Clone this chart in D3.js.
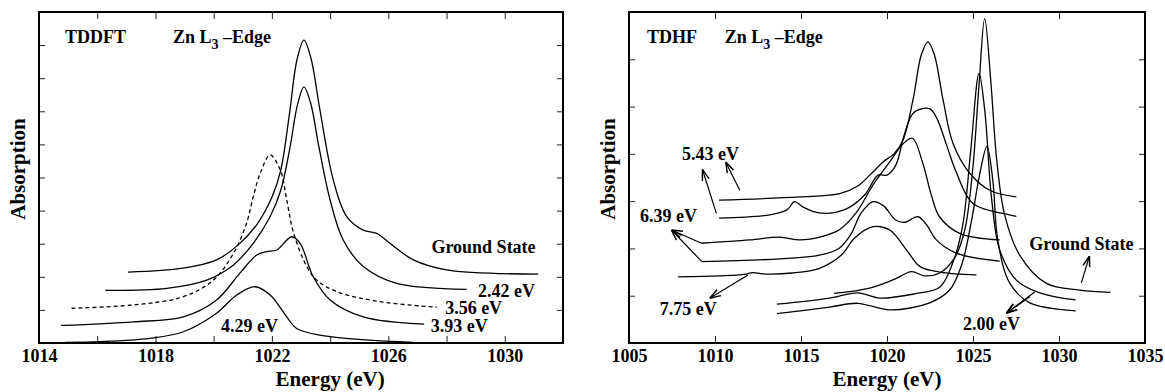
<!DOCTYPE html>
<html>
<head>
<meta charset="utf-8">
<script src="https://cdn.jsdelivr.net/npm/d3@7"></script>
<style>
  body { margin: 0; background: #fff; }
  text { font-family: "Liberation Serif", "Times New Roman", serif; font-weight: bold; fill: #000; }
</style>
</head>
<body>
<svg id="chart" width="1165" height="392"></svg>
<script>
// ---- TDDFT panel: [energy (eV), absorption] ----
const tddftGround = [[1017.06,2.14],[1018.95,2.26],[1020.1,2.51],[1020.9,3.01],[1021.5,3.6],[1022.0,4.4],[1022.3,5.2],[1022.6,6.9],[1022.86,8.55],[1023.1,9.15],[1023.34,8.61],[1023.65,7.04],[1024.11,4.92],[1024.57,3.82],[1025.14,3.41],[1025.6,3.31],[1026.06,3.01],[1026.86,2.51],[1028.0,2.21],[1031.15,2.08]];
const tddft242 = [[1016.28,1.59],[1018.39,1.65],[1019.76,1.90],[1020.68,2.36],[1021.36,3.01],[1021.94,3.82],[1022.3,4.6],[1022.62,5.9],[1022.88,7.2],[1023.1,7.74],[1023.33,7.25],[1023.62,5.9],[1024.0,4.32],[1024.45,3.11],[1025.14,2.31],[1026.29,1.80],[1028.69,1.62]];
const tddft356 = [[1015.12,1.05],[1017.24,1.15],[1018.96,1.40],[1019.99,1.90],[1020.68,2.71],[1021.13,3.62],[1021.36,4.42],[1021.6,5.13],[1021.94,5.68],[1022.3,5.2],[1022.51,4.32],[1022.75,3.31],[1023.2,2.31],[1023.54,1.90],[1024.23,1.55],[1025.71,1.25],[1027.66,1.08]];
const tddft393 = [[1014.76,0.53],[1017.24,0.64],[1018.96,0.79],[1020.1,1.30],[1020.9,2.11],[1021.48,2.66],[1021.82,2.76],[1022.17,2.81],[1022.68,3.21],[1022.97,3.01],[1023.42,2.0],[1024.0,1.30],[1025.14,0.79],[1027.23,0.57]];
const tddft429 = [[1014.9,0.02],[1016.1,0.04],[1017.81,0.14],[1018.96,0.34],[1020.1,0.9],[1020.79,1.45],[1021.42,1.70],[1021.94,1.45],[1022.51,0.79],[1022.85,0.44],[1024.0,0.19],[1026.86,0.02]];

// ---- TDHF panel ----
const tdhf543a = [[1010.23,3.02],[1014.92,3.09],[1017.25,3.16],[1018.3,3.32],[1019.0,3.55],[1019.77,3.83],[1020.4,4.0],[1020.93,4.29],[1021.51,5.14],[1022.0,6.1],[1022.38,6.37],[1022.75,6.1],[1023.26,5.14],[1023.84,4.22],[1024.81,3.59],[1025.97,3.23],[1027.52,3.09]];
const tdhf543b = [[1010.23,2.64],[1013.2,2.71],[1014.2,2.82],[1014.63,2.99],[1015.1,2.88],[1016.08,2.75],[1017.54,2.82],[1018.7,3.13],[1019.48,3.55],[1020.0,3.55],[1020.5,3.75],[1021.0,4.4],[1021.5,4.85],[1022.0,4.95],[1022.5,4.95],[1022.9,4.75],[1023.45,4.2],[1024.04,3.6],[1025.0,2.95],[1027.13,2.71],[1027.52,2.68]];
const tdhf639a = [[1009.21,2.11],[1012.02,2.18],[1013.76,2.24],[1014.92,2.18],[1016.2,2.25],[1017.25,2.4],[1018.2,2.75],[1019.2,3.35],[1020.2,3.85],[1020.9,4.2],[1021.48,4.33],[1022.08,3.8],[1022.6,3.1],[1023.05,2.67],[1024.22,2.32],[1026.55,2.18]];
const tdhf639b = [[1009.21,1.72],[1013.76,1.78],[1016.08,1.86],[1017.2,2.0],[1017.9,2.3],[1018.5,2.75],[1019.19,2.99],[1019.8,2.9],[1020.5,2.6],[1021.0,2.55],[1021.8,2.67],[1022.3,2.5],[1022.87,2.18],[1024.03,1.90],[1026.55,1.73]];
const tdhf775 = [[1007.85,1.40],[1010.27,1.42],[1011.7,1.45],[1012.21,1.49],[1012.8,1.46],[1014.5,1.48],[1016.08,1.58],[1017.35,1.86],[1018.12,2.22],[1019.19,2.46],[1020.16,2.39],[1021.13,1.97],[1021.9,1.62],[1023.06,1.5],[1025.2,1.44]];
const tdhfGround = [[1016.92,1.05],[1018.99,1.16],[1020.45,1.35],[1021.42,1.51],[1022.19,1.42],[1023.06,1.48],[1023.93,1.80],[1024.52,2.39],[1024.98,3.66],[1025.33,5.35],[1025.68,6.86],[1026.03,5.56],[1026.38,3.87],[1026.84,2.71],[1027.71,1.86],[1029.27,1.26],[1031.2,1.12],[1032.99,1.07]];
const tdhf200a = [[1013.6,0.82],[1016.67,0.95],[1018.3,1.06],[1019.58,0.95],[1021.61,1.04],[1023.06,1.18],[1023.82,1.69],[1024.4,2.49],[1024.87,4.08],[1025.35,5.70],[1025.68,4.93],[1026.09,3.02],[1026.55,1.97],[1027.52,1.33],[1028.88,1.06],[1030.97,0.91]];
const tdhf200b = [[1013.6,0.62],[1016.67,0.76],[1018.3,0.84],[1020.16,0.70],[1022.48,0.85],[1023.64,1.12],[1024.34,1.65],[1024.92,2.60],[1025.38,3.55],[1025.81,4.16],[1026.15,3.45],[1026.44,2.18],[1027.13,1.27],[1028.3,0.85],[1030.97,0.68]];

// labels: text, energy of centre, absorption of baseline
const tddftLabels = [
  { text: 'Ground State', e: 1029.27, v: 2.72 },
  { text: '2.42 eV', e: 1030.06, v: 1.40 },
  { text: '3.56 eV', e: 1028.93, v: 0.89 },
  { text: '3.93 eV', e: 1028.44, v: 0.34 },
  { text: '4.29 eV', e: 1021.23, v: 0.34 }
];
const tdhfLabels = [
  { text: '5.43 eV', e: 1009.74, v: 3.86 },
  { text: '6.39 eV', e: 1007.30, v: 2.56 },
  { text: '7.75 eV', e: 1008.45, v: 0.59 },
  { text: 'Ground State', e: 1031.3, v: 1.97 },
  { text: '2.00 eV', e: 1026.07, v: 0.27 }
];
// arrows: [tail, head]
const tdhfArrows = [
  [[1011.44,3.23],[1010.62,3.83]],
  [[1010.08,2.74],[1009.27,3.67]],
  [[1009.21,2.11],[1007.47,2.39]],
  [[1009.21,1.73],[1007.47,2.39]],
  [[1011.92,1.44],[1009.69,0.945]],
  [[1031.3,1.27],[1031.77,1.84]],
  [[1028.59,1.08],[1026.94,0.63]],
  [[1028.3,0.98],[1026.94,0.63]]
];

const svg = d3.select('#chart');
const plotTop = 12, plotBottom = 343;

svg.append('defs').append('marker')
  .attr('id', 'head')
  .attr('viewBox', '0 0 10 10')
  .attr('refX', 10).attr('refY', 5)
  .attr('markerWidth', 11).attr('markerHeight', 11)
  .attr('markerUnits', 'userSpaceOnUse')
  .attr('orient', 'auto')
  .append('path')
  .attr('d', 'M0,1.8L10,5L0,8.2')
  .attr('fill', 'none')
  .attr('stroke', '#000')
  .attr('stroke-width', 1.3);

const panels = [
  {
    left: 39, right: 563, xDomain: [1014, 1032], yDomain: [0, 10],
    xTicks: d3.range(1014, 1033, 2), xLabelStep: 4, yTicks: d3.range(1, 10),
    series: [
      { pts: tddftGround }, { pts: tddft242 }, { pts: tddft356, dashed: true },
      { pts: tddft393 }, { pts: tddft429 }
    ],
    labels: tddftLabels, arrows: [],
    tag: 'TDDFT', tagE: 1014.89, edgeE: 1018.6, tagV: 9.05,
    titleE: 1024, absX: 25
  },
  {
    left: 629, right: 1145, xDomain: [1005, 1035], yDomain: [0, 7],
    xTicks: d3.range(1005, 1036, 5), xLabelStep: 5, yTicks: d3.range(1, 7),
    series: [
      { pts: tdhf543a }, { pts: tdhf543b }, { pts: tdhf639a }, { pts: tdhf639b },
      { pts: tdhf775 }, { pts: tdhfGround }, { pts: tdhf200a }, { pts: tdhf200b }
    ],
    labels: tdhfLabels, arrows: tdhfArrows,
    tag: 'TDHF', tagE: 1006.05, edgeE: 1010.56, tagV: 6.34,
    titleE: 1020, absX: 615
  }
];

panels.forEach(function(p) {
  const x = d3.scaleLinear().domain(p.xDomain).range([p.left, p.right]);
  const y = d3.scaleLinear().domain(p.yDomain).range([plotBottom, plotTop]);
  const g = svg.append('g');

  const fmt = function(d) { return (d - p.xDomain[0]) % p.xLabelStep === 0 ? d : ''; };

  const xAxis = g.append('g')
    .attr('transform', 'translate(0,' + plotBottom + ')')
    .call(d3.axisBottom(x).tickValues(p.xTicks).tickSizeInner(-7).tickSizeOuter(0).tickPadding(6).tickFormat(fmt));
  xAxis.selectAll('text').attr('font-size', 18).attr('font-family', null);

  g.append('g')
    .attr('transform', 'translate(0,' + plotTop + ')')
    .call(d3.axisTop(x).tickValues(p.xTicks).tickSizeInner(-7).tickSizeOuter(0).tickFormat(''));
  g.append('g')
    .attr('transform', 'translate(' + p.left + ',0)')
    .call(d3.axisLeft(y).tickValues(p.yTicks).tickSizeInner(-6).tickSizeOuter(0).tickFormat(''));
  g.append('g')
    .attr('transform', 'translate(' + p.right + ',0)')
    .call(d3.axisRight(y).tickValues(p.yTicks).tickSizeInner(-6).tickSizeOuter(0).tickFormat(''));
  g.selectAll('.domain').remove();
  g.selectAll('.tick line').attr('stroke', '#222').attr('stroke-width', 1);

  g.append('rect')
    .attr('x', p.left).attr('y', plotTop)
    .attr('width', p.right - p.left).attr('height', plotBottom - plotTop)
    .attr('fill', 'none').attr('stroke', '#000').attr('stroke-width', 2);

  const line = d3.line()
    .x(function(d) { return x(d[0]); })
    .y(function(d) { return y(d[1]); })
    .curve(d3.curveCatmullRom.alpha(0.5));

  g.selectAll('path.curve')
    .data(p.series)
    .join('path')
    .attr('class', 'curve')
    .attr('d', function(s) { return line(s.pts); })
    .attr('fill', 'none')
    .attr('stroke', '#000')
    .attr('stroke-width', 1.3)
    .attr('stroke-dasharray', function(s) { return s.dashed ? '4,3' : null; });

  g.selectAll('line.arrow')
    .data(p.arrows)
    .join('line')
    .attr('class', 'arrow')
    .attr('x1', function(a) { return x(a[0][0]); })
    .attr('y1', function(a) { return y(a[0][1]); })
    .attr('x2', function(a) { return x(a[1][0]); })
    .attr('y2', function(a) { return y(a[1][1]); })
    .attr('stroke', '#000')
    .attr('stroke-width', 1.2)
    .attr('marker-end', 'url(#head)');

  g.selectAll('text.lbl')
    .data(p.labels)
    .join('text')
    .attr('class', 'lbl')
    .attr('x', function(d) { return x(d.e); })
    .attr('y', function(d) { return y(d.v); })
    .attr('text-anchor', 'middle')
    .attr('font-size', 18)
    .text(function(d) { return d.text; });

  g.append('text')
    .attr('x', x(p.tagE)).attr('y', y(p.tagV))
    .attr('font-size', 18)
    .text(p.tag);

  const edge = g.append('text')
    .attr('x', x(p.edgeE)).attr('y', y(p.tagV))
    .attr('font-size', 18);
  edge.append('tspan').text('Zn L');
  edge.append('tspan').attr('dy', 6).attr('font-size', 14).text('3');
  edge.append('tspan').attr('dy', -6).text(' \u2013Edge');

  g.append('text')
    .attr('x', x(p.titleE)).attr('y', 386)
    .attr('text-anchor', 'middle')
    .attr('font-size', 21)
    .text('Energy (eV)');

  g.append('text')
    .attr('transform', 'translate(' + p.absX + ',169) rotate(-90)')
    .attr('text-anchor', 'middle')
    .attr('font-size', 21)
    .text('Absorption');
});
</script>
</body>
</html>
